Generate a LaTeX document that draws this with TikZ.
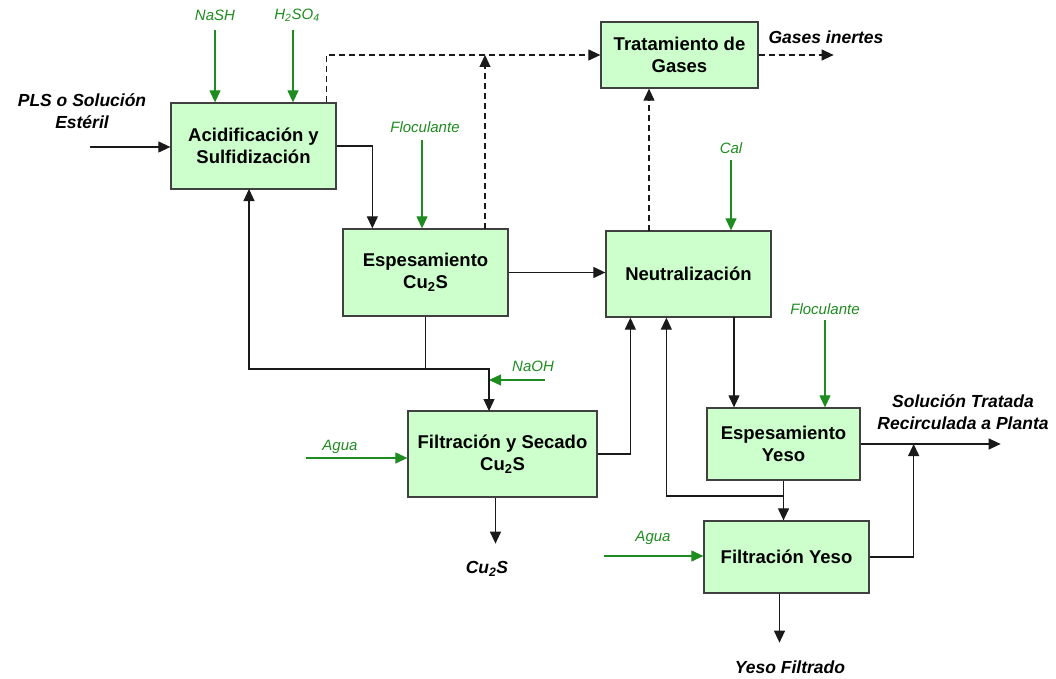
\documentclass[tikz,border=0pt]{standalone}
\usepackage{fontspec}
\setmainfont{Liberation Sans}
\usetikzlibrary{arrows.meta,calc}
\definecolor{boxfill}{HTML}{CCFFCC}
\definecolor{boxedge}{HTML}{404040}
\definecolor{feedgreen}{RGB}{30,140,30}
\definecolor{linek}{HTML}{1A1A1A}
\tikzset{
  unitbox/.style={draw=boxedge, fill=boxfill, line width=1.3pt, inner sep=0pt, align=center,
    font=\bfseries\fontsize{18.5}{22}\selectfont},
  tip/.style={-{Triangle[length=12pt,width=11pt]}},
  arr/.style={draw=linek, line width=1.2pt, tip},
  plain/.style={draw=linek, line width=1.2pt},
  darr/.style={draw=linek, line width=1.1pt, dash pattern=on 6pt off 4pt, tip},
  garr/.style={draw=feedgreen, line width=1.2pt, tip},
  glabel/.style={text=feedgreen, font=\itshape\fontsize{15}{17}\selectfont, inner sep=0pt},
  klabel/.style={text=black, font=\bfseries\itshape\fontsize{17.5}{22.5}\selectfont, inner sep=0pt, align=center},
}
\begin{document}
\begin{tikzpicture}[x=1pt,y=-1pt]
\useasboundingbox (0,0) rectangle (1056,679);
% boxes
\node[unitbox, minimum width=165pt, minimum height=86pt] (A) at (253.5,146) {Acidificación y\\Sulfidización};
\node[unitbox, minimum width=157pt, minimum height=66pt] (T) at (679.5,55) {Tratamiento de\\Gases};
\node[unitbox, minimum width=165pt, minimum height=87pt] (EC) at (425.5,272.5) {Espesamiento\\Cu\textsubscript{2}S};
\node[unitbox, minimum width=165pt, minimum height=86pt] (N) at (688.5,274) {Neutralización};
\node[unitbox, minimum width=189pt, minimum height=86pt] (F) at (502.5,454) {Filtración y Secado\\Cu\textsubscript{2}S};
\node[unitbox, minimum width=153pt, minimum height=72pt] (EY) at (783.5,444) {Espesamiento\\Yeso};
\node[unitbox, minimum width=165pt, minimum height=72pt] (FY) at (786.5,557) {Filtración Yeso};

% labels
\node[klabel] (pls) at (82,111) {PLS o Solución\\Estéril};
\node[klabel] (gin) at (826,37) {Gases inertes};
\node[klabel] (cu2s) at (487,569) {Cu\textsubscript{2}S};
\node[klabel] (sol) at (963,412) {Solución Tratada\\Recirculada a Planta};
\node[klabel] (yf) at (790,667) {Yeso Filtrado};
\node[glabel] (nash) at (215,15) {NaSH};
\node[glabel] (h2so4) at (297,15) {H\textsubscript{2}SO\textsubscript{4}};
\node[glabel] (floc1) at (425,127) {Floculante};
\node[glabel] (cal) at (731,148) {Cal};
\node[glabel] (naoh) at (533,366) {NaOH};
\node[glabel] (agua1) at (340,447) {Agua};
\node[glabel] (floc2) at (825,309) {Floculante};
\node[glabel] (agua2) at (653,538) {Agua};

% coordinates for free ends and bends
\coordinate (plsin) at (90,147);
\coordinate (nashin) at (215,30);
\coordinate (h2in) at (293,30);
\coordinate (flin1) at (422,140);
\coordinate (calin) at (731,160);
\coordinate (naohin) at (545,380);
\coordinate (naohend) at (489,380);
\coordinate (aguain1) at (306,458);
\coordinate (flin2) at (825,320);
\coordinate (aguain2) at (604,556);
\coordinate (j1) at (425.5,369);
\coordinate (j2) at (783.5,496);
\coordinate (ecgas) at (485,229);
\coordinate (ngas) at (649,231);
\coordinate (ney) at (734,317);
\coordinate (fin) at (489,411);
\coordinate (aret) at (249,189);

% feeds
\draw[arr] (plsin) -- (plsin -| A.west);
\draw[garr] (nashin) -- (nashin |- A.north);
\draw[garr] (h2in) -- (h2in |- A.north);
\draw[garr] (flin1) -- (flin1 |- EC.north);
\draw[garr] (calin) -- (calin |- N.north);
\draw[garr] (naohin) -- (naohend);
\draw[garr] (aguain1) -- (aguain1 -| F.west);
\draw[garr] (flin2) -- (flin2 |- EY.north);
\draw[garr] (aguain2) -- (aguain2 -| FY.west);

% main flows
\draw[arr] (A.east) -| ($(EC.north west)+(30,0)$);
\draw[darr] ($(A.north east)+(-10,0)$) |- (T.west);
\draw[darr] (ecgas) -- (ecgas |- T.west);
\draw[darr] (T.east) -- ++(75,0);
\draw[darr] (ngas) -- (ngas |- T.south);
\draw[arr] (EC.east) -- (EC.east -| N.west);
\draw[plain] (EC.south) -- (j1);
\draw[arr] (j1) -| (aret);
\draw[arr] (j1) -| (fin);
\draw[arr] (F.east) -| ($(N.south west)+(25,0)$);
\draw[arr] ($(F.south)+(-7,0)$) -- ++(0,46);
\draw[arr] (ney) -- (ney |- EY.north);
\draw[arr] (EY.east) -- ++(140,0);
\draw[arr] (EY.south) -- (EY.south |- FY.north);
\draw[arr] (j2) -| ($(N.south west)+(61,0)$);
\draw[arr] (FY.east) -| ($(EY.east)+(53,0)$);
\draw[arr] ($(FY.south)+(-7,0)$) -- ++(0,49);
\end{tikzpicture}
\end{document}
